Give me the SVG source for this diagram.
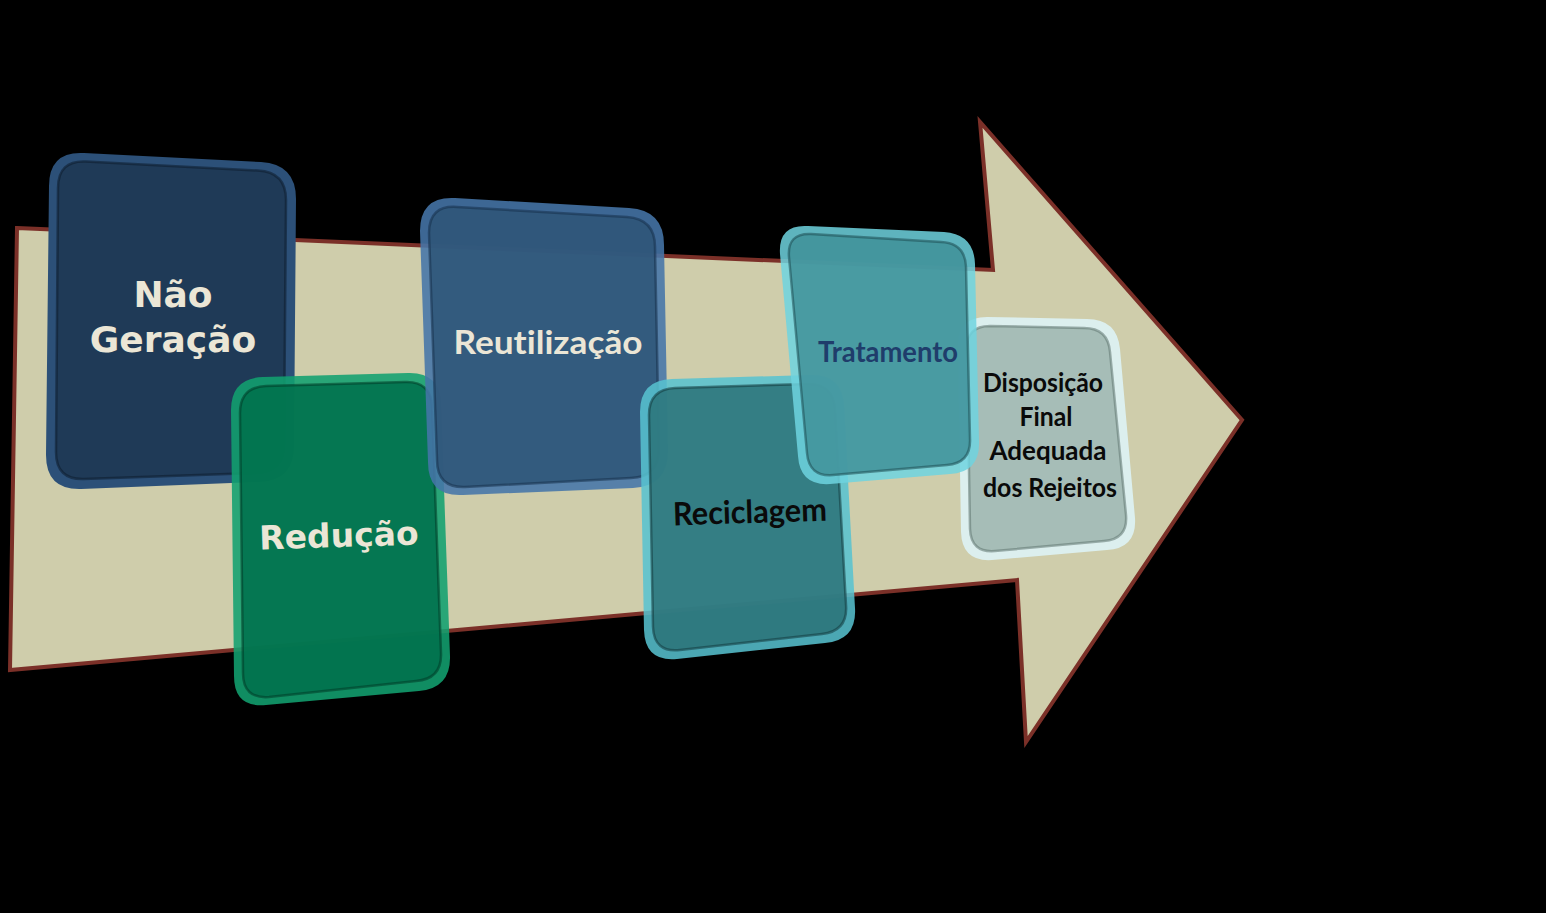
<svg xmlns="http://www.w3.org/2000/svg" width="1546" height="913" viewBox="0 0 1546 913">
<defs>
<style>
.cal{font-family:Lato,"Open Sans","Liberation Sans",sans-serif;font-weight:700;text-anchor:middle;font-variant-ligatures:none;font-feature-settings:"liga" 0}
.dv{font-family:"DejaVu Sans","Liberation Sans",sans-serif;font-weight:700;text-anchor:middle;fill:#ebe6d6}
.inner{stroke-width:2.5;stroke-opacity:0.55}
</style>
</defs>
<rect width="1546" height="913" fill="#000"/>
<g id="arrow">
<polygon points="17,228 993,270 980,122 1242,420 1026,742 1017,580 10,670" fill="#cfcdab" stroke="#7b3028" stroke-width="4" stroke-linejoin="miter"/>
</g>
<g id="connectors"></g>
<g id="nao-geracao">
<path d="M84,153 L261,162 Q296,164 296,199 L294,446 Q294,481 259,482 L81,489 Q46,490 46,455 L49,186 Q49,151 84,153 Z" fill="#2c5078"/>
<path class="inner" d="M86,161.5 L258,170.5 Q286,172 286,200 L284,444 Q284,472 256,473 L84,479 Q56,480 56,452 L58,188 Q58,160 86,161.5 Z" fill="#1f3a57" stroke="#0d1c2c"/>
<text class="dv" x="173" y="307" font-size="36">Não</text>
<text class="dv" x="173" y="352" font-size="36">Geração</text>
</g>
<g id="reducao">
<path d="M263,377 L408,373 Q440,372 441,404 L450,656 Q451,688 419,691 L266,705 Q234,708 234,676 L231,410 Q231,378 263,377 Z" fill="#12a070" fill-opacity="0.88"/>
<path class="inner" d="M266,386 L405,382 Q431,381 432,407 L441,653 Q442,679 416,681 L269,697 Q243,699 243,673 L240,413 Q240,387 266,386 Z" fill="#00704c" fill-opacity="0.86" stroke="#003a26"/>
<text class="dv" x="339" y="547" font-size="33" transform="rotate(-1.8 339 540)">Redução</text>
</g>
<g id="reutilizacao">
<path d="M455,198 L629,208 Q664,210 664,245 L668,451 Q668,486 633,488 L463,495 Q428,497 428,462 L420,231 Q420,196 455,198 Z" fill="#4575a8" fill-opacity="0.88"/>
<path class="inner" d="M457,207 L627,217 Q655,219 655,247 L659,449 Q659,477 631,478 L465,487 Q437,488 437,460 L429,233 Q429,205 457,207 Z" fill="#2f5578" fill-opacity="0.88" stroke="#16304a"/>
<text class="cal" x="548" y="354" font-size="32" fill="#ebe6d6" textLength="189" lengthAdjust="spacingAndGlyphs">Reutilização</text>
</g>
<g id="reciclagem">
<path d="M672,379 L810,375 Q842,374 844,406 L855,608 Q857,640 825,643 L677,659 Q645,662 644,630 L640,412 Q640,380 672,379 Z" fill="#57c2d0" fill-opacity="0.86"/>
<path class="inner" d="M675,388 L807,384 Q833,383 835,409 L846,605 Q848,631 822,634 L680,650 Q654,653 653,627 L649,415 Q649,389 675,388 Z" fill="#2b7278" fill-opacity="0.86" stroke="#12393d"/>
<text class="cal" x="750" y="523" font-size="32" fill="#0a0a0a" textLength="154" lengthAdjust="spacingAndGlyphs" transform="rotate(-1.8 750 515)">Reciclagem</text>
</g>
<g id="disposicao">
<path d="M987,317 L1087,319 Q1117,319 1120,349 L1135,518 Q1137,548 1107,550 L992,560 Q962,562 961,532 L958,347 Q957,317 987,317 Z" fill="#dcefee"/>
<path class="inner" d="M990,326 L1084,328 Q1108,328 1110,352 L1126,515 Q1128,539 1104,541 L995,551 Q971,553 970,529 L967,350 Q966,326 990,326 Z" fill="#a6bdb7" stroke="#5f7570"/>
<text class="cal" x="1043" y="392" font-size="26" fill="#0a0a0a" textLength="120" lengthAdjust="spacingAndGlyphs">Disposição</text>
<text class="cal" x="1046" y="426" font-size="26" fill="#0a0a0a" textLength="53" lengthAdjust="spacingAndGlyphs">Final</text>
<text class="cal" x="1048" y="460" font-size="26" fill="#0a0a0a" textLength="117" lengthAdjust="spacingAndGlyphs">Adequada</text>
<text class="cal" x="1050" y="497" font-size="26" fill="#0a0a0a" textLength="134" lengthAdjust="spacingAndGlyphs">dos Rejeitos</text>
</g>
<g id="tratamento">
<path d="M808,226 L944,232 Q974,234 975,264 L979,442 Q980,472 950,474 L830,484 Q800,486 798,456 L780,254 Q778,224 808,226 Z" fill="#6fd3df" fill-opacity="0.85"/>
<path class="inner" d="M811,234 L941,242 Q965,243 966,267 L970,439 Q971,463 947,465 L833,475 Q809,477 807,453 L789,257 Q787,233 811,234 Z" fill="#3f9199" fill-opacity="0.85" stroke="#1d4d52"/>
<text class="cal" x="888" y="362" font-size="28" fill="#1f3d6b" textLength="140" lengthAdjust="spacingAndGlyphs">Tratamento</text>
</g>
</svg>
